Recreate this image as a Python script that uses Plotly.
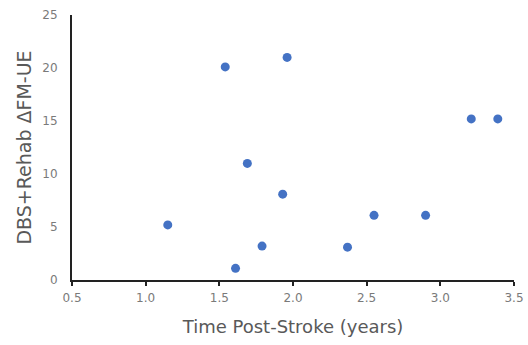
import plotly.graph_objects as go

time_post_stroke = [1.15, 1.54, 1.61, 1.69, 1.79, 1.93, 1.96, 2.37, 2.55, 2.90, 3.21, 3.39]
delta_fm_ue = [5.2, 20.1, 1.1, 11.0, 3.2, 8.1, 21.0, 3.1, 6.1, 6.1, 15.2, 15.2]

x_ticks = [0.5, 1.0, 1.5, 2.0, 2.5, 3.0, 3.5]
y_ticks = [0, 5, 10, 15, 20, 25]

fig = go.Figure(go.Scatter(
    x=time_post_stroke, y=delta_fm_ue, mode="markers",
    marker=dict(color="#4472C4", size=9, symbol="circle"),
    cliponaxis=False,
))

font_gray = "#595959"
fig.update_layout(
    width=528, height=345,
    margin=dict(l=72, r=14, t=15, b=65),
    paper_bgcolor="white", plot_bgcolor="white",
    showlegend=False,
    font=dict(family="DejaVu Sans, sans-serif", color=font_gray, size=12),
)
fig.update_xaxes(
    range=[0.5, 3.5], tickvals=x_ticks, ticktext=[f"{v:.1f}" for v in x_ticks],
    showgrid=False, zeroline=False, showline=True, linecolor="#222", linewidth=2,
    ticks="outside", ticklen=4, tickwidth=2, tickcolor="#222",
    ticklabeloverflow="allow", ticklabelstandoff=2,
    title=dict(text="Time Post-Stroke (years)", font=dict(size=18, color=font_gray), standoff=16),
    tickfont=dict(size=12, color="#7a7a7a"),
    automargin=False,
)
fig.update_yaxes(
    range=[0, 25], tickvals=y_ticks,
    showgrid=False, zeroline=False, showline=True, linecolor="#222", linewidth=2,
    ticks="", ticklabelstandoff=10,
    title=dict(text="DBS+Rehab ΔFM-UE", font=dict(size=19, color=font_gray), standoff=6),
    tickfont=dict(size=12, color="#7a7a7a"),
    automargin=False,
)
fig.write_html("out.html", config={"displayModeBar": False},
               post_script="document.body.style.margin='0';")
